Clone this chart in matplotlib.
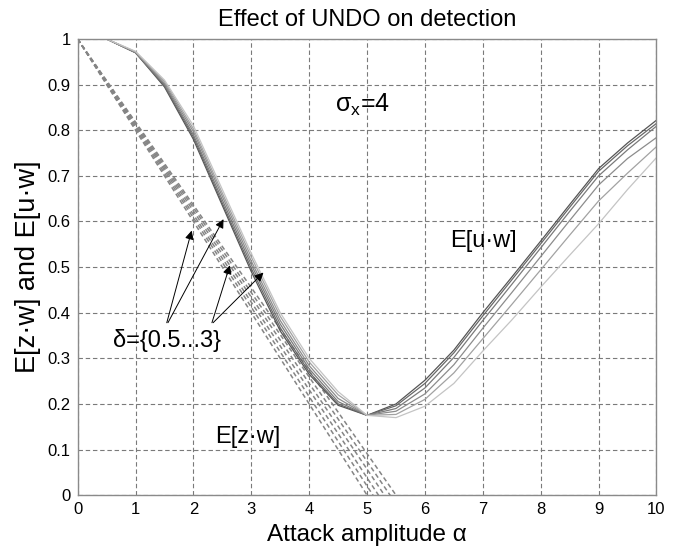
import matplotlib
matplotlib.use("Agg")
import matplotlib.pyplot as plt

plt.rcParams['font.family'] = ['Liberation Sans', 'DejaVu Sans']

# attack amplitude grid (step 0.5)
alpha = [0.0, 0.5, 1.0, 1.5, 2.0, 2.5, 3.0, 3.5, 4.0, 4.5, 5.0,
         5.5, 6.0, 6.5, 7.0, 7.5, 8.0, 8.5, 9.0, 9.5, 10.0]

# E[u.w] for delta = 0.5, 1, 1.5, 2, 2.5, 3
uw_d05 = [1.0, 1.0, 0.970, 0.895, 0.780, 0.635, 0.490, 0.360, 0.265, 0.197, 0.175,
          0.200, 0.252, 0.318, 0.400, 0.478, 0.557, 0.637, 0.716, 0.772, 0.822]
uw_d10 = [1.0, 1.0, 0.970, 0.897, 0.785, 0.640, 0.497, 0.367, 0.270, 0.200, 0.175,
          0.196, 0.245, 0.312, 0.393, 0.472, 0.551, 0.631, 0.710, 0.766, 0.815]
uw_d15 = [1.0, 1.0, 0.970, 0.900, 0.790, 0.647, 0.505, 0.375, 0.277, 0.205, 0.175,
          0.190, 0.235, 0.302, 0.383, 0.462, 0.542, 0.622, 0.700, 0.757, 0.809]
uw_d20 = [1.0, 1.0, 0.971, 0.903, 0.797, 0.655, 0.513, 0.383, 0.284, 0.212, 0.175,
          0.184, 0.222, 0.286, 0.366, 0.444, 0.523, 0.602, 0.680, 0.738, 0.784]
uw_d25 = [1.0, 1.0, 0.972, 0.907, 0.803, 0.662, 0.522, 0.392, 0.292, 0.220, 0.175,
          0.177, 0.210, 0.268, 0.343, 0.418, 0.494, 0.570, 0.645, 0.706, 0.764]
uw_d30 = [1.0, 1.0, 0.973, 0.910, 0.810, 0.670, 0.530, 0.400, 0.300, 0.227, 0.175,
          0.170, 0.195, 0.245, 0.316, 0.384, 0.456, 0.526, 0.595, 0.670, 0.740]

# E[z.w] for the same deltas (below zero is outside the plotted range)
alpha_z = [0.0, 0.5, 1.0, 1.5, 2.0, 2.5, 3.0, 3.5, 4.0, 4.5, 5.0, 5.5, 6.0]
zw_d05 = [1.0, 0.900, 0.800, 0.700, 0.600, 0.500, 0.400, 0.300, 0.200, 0.100, 0.000, -0.100, -0.200]
zw_d10 = [1.0, 0.902, 0.804, 0.706, 0.608, 0.510, 0.412, 0.314, 0.216, 0.118, 0.020, -0.078, -0.176]
zw_d15 = [1.0, 0.904, 0.808, 0.712, 0.615, 0.519, 0.423, 0.327, 0.231, 0.135, 0.038, -0.058, -0.154]
zw_d20 = [1.0, 0.906, 0.811, 0.717, 0.623, 0.528, 0.434, 0.340, 0.245, 0.151, 0.057, -0.038, -0.132]
zw_d25 = [1.0, 0.907, 0.815, 0.722, 0.630, 0.537, 0.444, 0.352, 0.259, 0.167, 0.074, -0.019, -0.111]
zw_d30 = [1.0, 0.909, 0.818, 0.727, 0.636, 0.545, 0.455, 0.364, 0.273, 0.182, 0.091, 0.000, -0.091]

uw_series = [uw_d05, uw_d10, uw_d15, uw_d20, uw_d25, uw_d30]
zw_series = [zw_d05, zw_d10, zw_d15, zw_d20, zw_d25, zw_d30]
shades = ['#555555', '#686868', '#7a7a7a', '#8c8c8c', '#a2a2a2', '#c4c4c4']

x_ticks = [0, 1, 2, 3, 4, 5, 6, 7, 8, 9, 10]
y_ticks = [0, 0.1, 0.2, 0.3, 0.4, 0.5, 0.6, 0.7, 0.8, 0.9, 1]
y_ticklabels = ['0', '0.1', '0.2', '0.3', '0.4', '0.5', '0.6', '0.7', '0.8', '0.9', '1']

fig = plt.figure(figsize=(6.81, 5.57), dpi=100)
ax = fig.add_axes([0.114, 0.111, 0.850, 0.819])

for ys in zw_series:
    ax.plot(alpha_z, ys, color='#858585', lw=1.1, ls=(0, (3, 2)))
for ys, c in zip(uw_series, shades):
    ax.plot(alpha, ys, color=c, lw=0.9)

ax.set_xlim(0, 10)
ax.set_ylim(0, 1)
ax.set_xticks(x_ticks)
ax.set_yticks(y_ticks)
ax.set_yticklabels(y_ticklabels)
ax.grid(True, color='#7a7a7a', lw=0.8, ls=(0, (4, 2.5)))
ax.tick_params(direction='in', length=0, labelsize=12, pad=5)
for sp in ax.spines.values():
    sp.set_color('#8a8a8a')
    sp.set_linewidth(1.0)

ax.set_title('Effect of UNDO on detection', fontsize=17, pad=9)
ax.set_xlabel('Attack amplitude α', fontsize=17.5, labelpad=5)
ax.set_ylabel('E[z·w] and E[u·w]', fontsize=19.5, labelpad=5)

ax.text(4.45, 0.855, r'$\mathregular{\sigma_x}$=4', fontsize=18, va='center', ha='left')
ax.text(6.43, 0.557, 'E[u·w]', fontsize=17, va='center', ha='left')
ax.text(2.37, 0.127, 'E[z·w]', fontsize=17, va='center', ha='left')
ax.text(0.61, 0.338, 'δ={0.5...3}', fontsize=17, va='center', ha='left')

arrow_kw = dict(arrowstyle='-|>', color='k', lw=0.7, mutation_scale=13,
                shrinkA=0, shrinkB=0)
for start, end in [((1.54, 0.378), (1.97, 0.58)),
                   ((1.56, 0.378), (2.52, 0.605)),
                   ((2.32, 0.378), (2.63, 0.504)),
                   ((2.34, 0.378), (3.21, 0.488))]:
    ax.annotate('', xy=end, xytext=start, arrowprops=arrow_kw)

fig.savefig('out.png', dpi=100)
